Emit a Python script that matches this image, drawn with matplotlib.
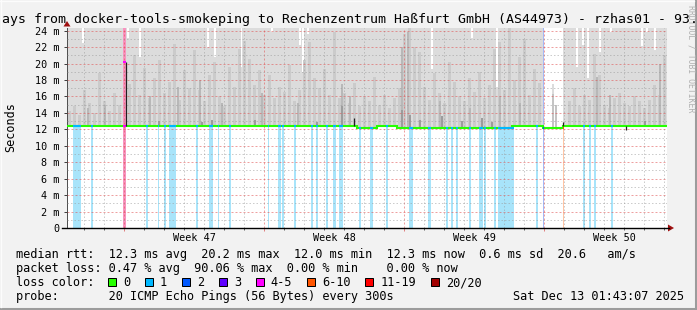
import matplotlib
matplotlib.use('Agg')
import matplotlib.pyplot as plt
import numpy as np
from matplotlib.patches import Rectangle, Polygon
from matplotlib.lines import Line2D

plt.rcParams['font.family'] = ['DejaVu Sans Mono']

W, H = 697, 310

# x axis: days since the left edge of the 30 day window
week_starts = [2.85, 9.85, 16.85, 23.85]
week_labels = ['Week 47', 'Week 48', 'Week 49', 'Week 50']
day_lines = [0.85, 1.85, 2.85, 3.85, 4.85, 5.85, 6.85, 7.85, 8.85, 9.85, 10.85, 11.85,
             12.85, 13.85, 14.85, 15.85, 16.85, 17.85, 18.85, 19.85, 20.85, 21.85,
             22.85, 23.85, 24.85, 25.85, 26.85, 27.85, 28.85, 29.85]
ytick_vals = [0, 2, 4, 6, 8, 10, 12, 14, 16, 18, 20, 22, 24]
ytick_labels = ['0', '2 m', '4 m', '6 m', '8 m', '10 m', '12 m', '14 m', '16 m',
                '18 m', '20 m', '22 m', '24 m']
ytick_minor = [1, 3, 5, 7, 9, 11, 13, 15, 17, 19, 21, 23]

# median rtt (ms), piecewise constant
median_edges = [0, 14.5, 15.5, 16.5, 22.25, 23.8, 24.8, 30]
median_ms = [12.38, 12.17, 12.38, 12.15, 12.38, 12.15, 12.38]

# upper edge of the light smoke (0 = no smoke)
top_edges = [0, 23.83, 24.8, 30]
top_ms = [24.37, 0, 24.37]

# mid grey smoke, one value per 6 hours
smoke_mid = [14.2, 14.8, 13.8, 16.8, 15.2, 14.0, 18.8, 15.5, 14.2, 16.4, 15.0, 13.6,
             17.5, 21.0, 16.2, 19.5, 15.8, 18.2, 20.5, 16.4, 17.8, 22.4, 15.6, 19.2,
             17.0, 21.6, 16.8, 15.4, 18.6, 20.2, 16.0, 14.8, 19.6, 17.2, 21.8,
             22.8, 20.6, 17.4, 19.2, 16.2, 18.6, 15.8, 17.2, 16.6, 19.8, 15.4, 16.8,
             20.4, 22.6, 18.2, 17.0, 19.4, 16.2, 23.8, 15.8, 16.4, 15.2, 17.6, 14.8,
             16.0, 15.4, 18.4, 15.0, 16.2, 14.6, 15.8, 17.0, 23.6, 24.4, 22.0,
             21.4, 17.2, 15.6, 18.8, 16.4, 15.2, 20.2, 17.8, 16.0, 15.4, 18.2, 16.6,
             19.0, 15.8, 17.4, 21.8, 22.6, 16.8, 24.4, 18.0, 20.8, 23.0, 16.2, 19.4,
             17.6, 0, 0, 0, 0, 0,
             15.4, 17.0, 14.8, 16.2, 15.6, 21.2, 18.6, 15.0, 14.6, 15.8, 16.4, 15.2,
             14.8, 16.0, 15.4, 14.6, 15.6, 17.4, 16.2, 21.0]

# darker smoke spikes
dark_days = [1.05, 1.9, 4.15, 5.55, 6.65, 7.75, 9.75, 11.55, 13.75, 14.15, 16.75,
             17.05, 18.65, 20.15, 21.65, 22.65, 26.5, 27.15, 29.65]
dark_ms = [14.6, 15.0, 16.0, 17.2, 18.0, 15.2, 16.4, 15.2, 17.5, 16.0, 22.0,
           23.8, 15.4, 14.6, 16.0, 15.2, 18.4, 16.2, 20.0]
darkest_days = [4.6, 6.75, 7.25, 9.4, 12.5, 13.75, 16.75, 17.15, 17.65, 18.75,
                19.75, 20.75, 21.25, 28.9]
darkest_ms = [13.0, 12.9, 13.1, 13.2, 12.9, 14.8, 14.4, 13.8, 13.2, 13.6, 13.0,
              13.4, 12.9, 13.0]

# smoke inside the gap after week 50 starts
gap_light_days = [24.3]
gap_light_ms = [17.5]
gap_mid_days = [24.3, 24.45]
gap_mid_ms = [16.3, 15.0]

# slots where the max ping stayed under the top of the graph
notch_days = [0.8, 3.05, 3.65, 7.05, 7.4, 8.73, 10.25, 11.65, 11.8, 12.05, 18.25,
              20.25, 21.5, 25.5, 25.8, 26.05, 26.65, 27.2, 28.75, 29.0, 29.4]
notch_ms = [22.5, 23.1, 20.8, 22.0, 20.8, 19.6, 23.9, 22.3, 19.0, 23.6, 19.4,
            23.1, 17.2, 19.6, 22.3, 18.2, 21.4, 23.9, 22.2, 23.8, 21.6]

# packet loss slots (start day, end day, loss colour index)
loss_start = [0.29, 1.2, 2.82, 3.94, 4.54, 4.85, 5.1, 6.45, 7.1, 7.54, 8.1, 10.05,
              10.55, 10.75, 11.35, 12.2, 12.45, 12.95, 13.3, 13.6, 14.6, 15.15,
              15.95, 17.1, 18.05, 18.95, 19.2, 19.45, 20.1, 20.6, 20.85, 21.35,
              21.55, 23.45, 23.8, 24.78, 25.8, 26.1, 26.35, 27.2]
loss_end = [0.7, 1.3, 2.93, 4.04, 4.6, 4.95, 5.45, 6.55, 7.3, 7.6, 8.2, 10.1,
            10.7, 10.85, 11.45, 12.3, 12.55, 13.05, 13.45, 13.8, 14.7, 15.3,
            16.05, 17.3, 18.2, 19.05, 19.3, 19.55, 20.2, 20.8, 20.95, 21.45,
            22.35, 23.55, 23.86, 24.86, 25.9, 26.2, 26.45, 27.3]
loss_level = [1, 1, 4, 1, 1, 1, 1, 1, 1, 1, 1, 1, 1, 1, 1, 1, 1, 1, 1, 1, 1, 1,
              1, 1, 1, 1, 1, 1, 1, 1, 1, 1, 1, 1, 2, 5, 1, 1, 1, 1]

# single median excursions
spike_days = [2.94, 14.37, 24.82, 27.95]
spike_ms = [20.2, 13.4, 12.85, 11.95]

loss_names = ['0', '1', '2', '3', '4-5', '6-10', '11-19', '20/20']
loss_colors = ['#26ff00', '#00b8ff', '#0059ff', '#5e00ff', '#ff00ff', '#ff5500',
               '#ff0000', '#a10000']
loss_light = ['#c8ffc0', '#a8e4fa', '#a4b8f6', '#c8a8ff', '#f894c0', '#ffc4a4',
              '#ffa0a0', '#d8a0a0']

title = ('ays from docker-tools-smokeping to Rechenzentrum Ha\u00dffurt GmbH '
         '(AS44973) - rzhas01 - 93.')
row_rtt = 'median rtt:  12.3 ms avg  20.2 ms max  12.0 ms min  12.3 ms now  0.6 ms sd  20.6   am/s'
row_loss = 'packet loss: 0.47 % avg  90.06 % max  0.00 % min    0.00 % now'
row_probe = 'probe:       20 ICMP Echo Pings (56 Bytes) every 300s'
stamp = 'Sat Dec 13 01:43:07 2025'


def med_at(d):
    return median_ms[min(np.searchsorted(median_edges, d, side='right') - 1,
                         len(median_ms) - 1)]


def top_at(d):
    return top_ms[min(np.searchsorted(top_edges, d, side='right') - 1, len(top_ms) - 1)]


def fx(px):
    return px / W


def fy(py):
    return 1 - py / H


fig = plt.figure(figsize=(W / 100, H / 100), dpi=100, facecolor='#f2f2f2')
ax = fig.add_axes([fx(67), fy(228), 600 / W, (228 - 27.7) / H])
ax.set_facecolor('white')
ax.set_xlim(0, 30)
ax.set_ylim(0, 24.37)

# light smoke band
edges = sorted(set(median_edges + top_edges))
lo = [med_at(e) for e in edges[:-1]]
hi = [max(top_at(e), med_at(e)) for e in edges[:-1]]
ax.fill_between(edges, lo + [lo[-1]], hi + [hi[-1]], step='post',
                color='#dcdcdc', lw=0, zorder=1)

# notches of white where the max stayed low
ax.bar(notch_days, [24.37 - v for v in notch_ms], bottom=notch_ms, width=0.08,
       color='white', lw=0, zorder=1.1)

# mid grey smoke
bin_left = np.arange(len(smoke_mid)) * 0.25
bin_med = np.array([med_at(b + 0.125) for b in bin_left])
mid_h = np.clip(np.array(smoke_mid) - bin_med, 0, None)
ax.bar(bin_left + 0.125, mid_h, bottom=bin_med, width=0.19,
       color='#cbcbcb', lw=0, zorder=1.2)

gl_med = [med_at(d) for d in gap_light_days]
ax.bar(gap_light_days, np.array(gap_light_ms) - gl_med, bottom=gl_med, width=0.1,
       color='#dcdcdc', lw=0, zorder=1.2)
gm_med = [med_at(d) for d in gap_mid_days]
ax.bar(gap_mid_days, np.array(gap_mid_ms) - gm_med, bottom=gm_med, width=0.08,
       color='#c4c4c4', lw=0, zorder=1.3)

d_med = [med_at(d) for d in dark_days]
ax.bar(dark_days, np.array(dark_ms) - d_med, bottom=d_med, width=0.1,
       color='#b8b8b8', lw=0, zorder=1.3)
dd_med = [med_at(d) for d in darkest_days]
ax.bar(darkest_days, np.array(darkest_ms) - dd_med, bottom=dd_med, width=0.08,
       color='#9c9c9c', lw=0, zorder=1.4)

# loss bars
for s, e, lv in zip(loss_start, loss_end, loss_level):
    top = 24.37 if lv in (2, 4) else med_at(s)
    ax.bar(s, top, width=e - s, align='edge', color=loss_light[lv], lw=0, zorder=1.5)

# grid
ax.set_xticks(week_starts)
ax.set_xticks(day_lines, minor=True)
ax.set_yticks(ytick_vals)
ax.set_yticks(ytick_minor, minor=True)
ax.set_xticklabels([])
ax.set_yticklabels(ytick_labels, fontsize=7.3)
ax.set_axisbelow(False)
ax.grid(which='major', color='#e05050', alpha=0.55, ls=(0, (2, 2)), lw=0.72)
ax.grid(which='minor', color='#9a9a9a', alpha=0.5, ls=(0, (1.5, 2)), lw=0.72)
ax.tick_params(axis='y', which='major', length=2.5, width=0.72, color='#404040',
               pad=3.2, direction='out')
ax.tick_params(axis='y', which='minor', length=0)
ax.tick_params(axis='x', which='major', length=2.5, width=0.72, color='#e08080',
               direction='out')
ax.tick_params(axis='x', which='minor', length=1.6, width=0.72, color='#606060',
               direction='out')
for side in ['top', 'right', 'bottom']:
    ax.spines[side].set_visible(False)
ax.spines['left'].set_color('#505050')
ax.spines['left'].set_linewidth(0.72)

# median line
ax.stairs(median_ms, median_edges, baseline=None, color=loss_colors[0], lw=1.5, zorder=4)
for s, e, lv in zip(loss_start, loss_end, loss_level):
    ax.hlines(med_at(s), s, e, color=loss_colors[lv], lw=1.5, zorder=4.5)
for d, v in zip(spike_days, spike_ms):
    ax.vlines(d, med_at(d), v, color='#202020', lw=0.9, zorder=5)
ax.hlines(spike_ms[0], loss_start[2], loss_end[2], color=loss_colors[4], lw=1.5, zorder=5)

# week labels
for s, lab in zip(week_starts, week_labels):
    ax.text(s + 3.5, -13 / 200.3, lab, transform=ax.get_xaxis_transform(),
            ha='center', va='baseline', fontsize=7.3)

# axes lines and arrows
fig.add_artist(Line2D([fx(62), fx(669)], [fy(228), fy(228)], color='black', lw=1.0))
fig.add_artist(Polygon([(fx(668), fy(224.5)), (fx(674), fy(228)), (fx(668), fy(231.5))],
                       closed=True, color='#a01010', lw=0))
fig.add_artist(Polygon([(fx(63.5), fy(26.5)), (fx(67), fy(21)), (fx(70.5), fy(26.5))],
                       closed=True, color='#a01010', lw=0))

# texts
fig.text(fx(690.5), fy(5), 'RRDTOOL / TOBI OETIKER', rotation=270, ha='center', va='top',
         fontsize=5.9, color='#b0b0b0')
fig.text(fx(2), fy(23), title, fontsize=9.57, ha='left', va='baseline')
fig.text(fx(11), fy(127.5), 'Seconds', rotation=90, ha='center', va='center', fontsize=8.5)
fig.text(fx(16), fy(258), row_rtt, fontsize=8.55, ha='left', va='baseline')
fig.text(fx(16), fy(272), row_loss, fontsize=8.55, ha='left', va='baseline')
fig.text(fx(16), fy(286), 'loss color:', fontsize=8.55, ha='left', va='baseline')
fig.text(fx(16), fy(300), row_probe, fontsize=8.55, ha='left', va='baseline')
fig.text(fx(513), fy(300), stamp, fontsize=8.55, ha='left', va='baseline')

bx = 108
for name, col in zip(loss_names, loss_colors):
    fig.add_artist(Rectangle((fx(bx), fy(286)), 8 / W, 8 / H, facecolor=col,
                             edgecolor='black', lw=0.72))
    fig.text(fx(bx + 15), fy(286), name, fontsize=8.55, ha='left', va='baseline')
    bx += 15.5 + (len(name) + 2) * 7.15

# frame
fig.add_artist(Line2D([0, 1], [fy(308.5), fy(308.5)], color='#9c9c9c', lw=2.2))
fig.add_artist(Line2D([fx(695.5), fx(695.5)], [0, 1], color='#9c9c9c', lw=2.2))
fig.add_artist(Line2D([0, fx(694)], [fy(0.5), fy(0.5)], color='#fcfcfc', lw=1.0))
fig.add_artist(Line2D([fx(0.5), fx(0.5)], [fy(307), 1], color='#fcfcfc', lw=1.0))

fig.savefig('out.png', dpi=100, facecolor=fig.get_facecolor())
